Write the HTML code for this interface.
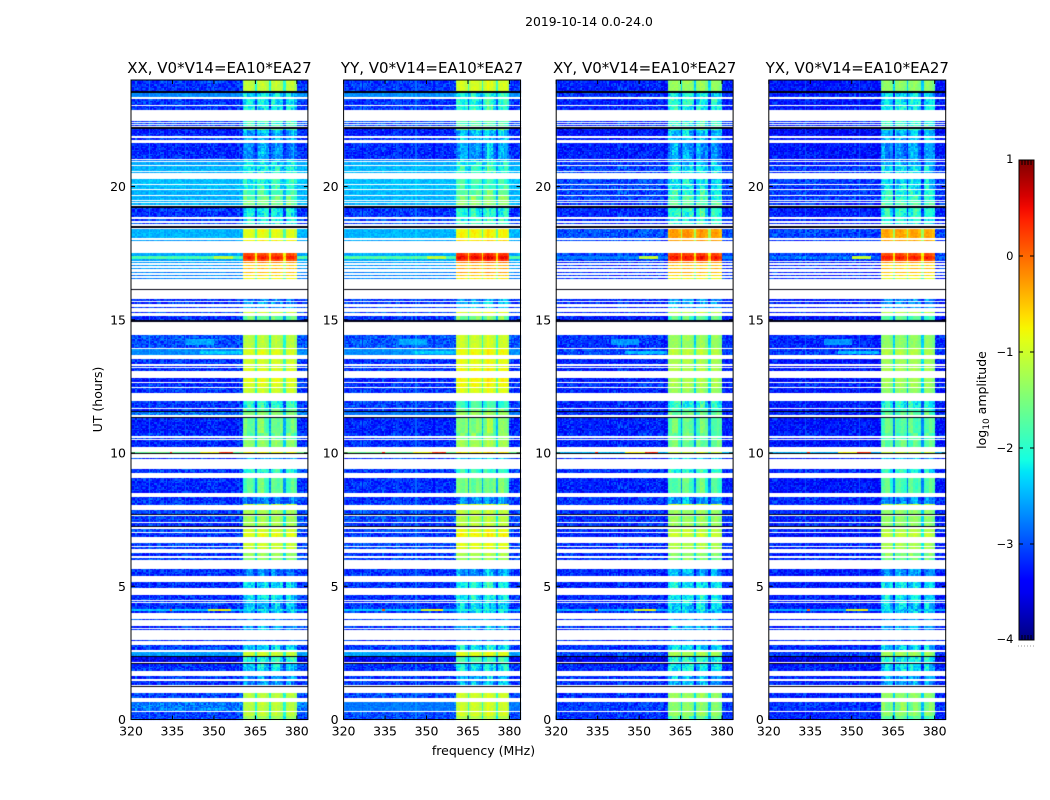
<!DOCTYPE html>
<html lang="en">
<head>
<meta charset="utf-8">
<title>2019-10-14 0.0-24.0</title>
<style>
html,body{margin:0;padding:0;background:#fff;width:1050px;height:800px;overflow:hidden}
#stage{position:relative;width:1050px;height:800px}
canvas{position:absolute;left:0;top:0}
svg{position:absolute;left:0;top:0}
text{font-family:"DejaVu Sans","Liberation Sans",sans-serif;fill:#000}
</style>
</head>
<body>
<div id="stage">
<canvas id="heat-0" width="1050" height="800"></canvas>
<canvas id="heat-1" width="1050" height="800"></canvas>
<canvas id="heat-2" width="1050" height="800"></canvas>
<canvas id="heat-3" width="1050" height="800"></canvas>
<svg id="axes" width="1050" height="800" viewBox="0 0 1050 800">
<defs><linearGradient id="jet-gradient" x1="0" y1="1" x2="0" y2="0"></linearGradient></defs>
<text x="589" y="26" font-size="12.4" text-anchor="middle">2019-10-14 0.0-24.0</text>
<text x="483.5" y="755" font-size="12.5" text-anchor="middle">frequency (MHz)</text>
<text transform="translate(102,399.5) rotate(-90)" font-size="12.5" text-anchor="middle">UT (hours)</text>
<text transform="translate(986,400) rotate(-90)" font-size="12.5" text-anchor="middle">log<tspan font-size="9" dy="3">10</tspan><tspan dy="-3"> amplitude</tspan></text>
</svg>
</div>
<script>
// Band timing (UT hours); anything outside a band is a white gap.
var bandTop=[24,23.51,23.28,23.02,22.46,22.39,22.32,22.16,22.12,21.84,21.63,20.99,20.92,20.77,20.54,20.28,20.06,19.89,19.64,19.47,19.38,19.20,18.78,18.64,18.41,18.01,17.49,17.39,17.30,17.17,17.07,16.94,16.80,16.68,16.56,15.79,15.65,15.49,15.28,15.14,14.43,13.89,13.53,13.28,13.19,12.83,12.62,12.45,11.95,11.64,11.55,11.30,10.74,10.58,10.50,10.05,9.81,9.40,9.07,8.35,8.08,7.86,7.64,7.37,7.16,7.00,6.62,6.48,6.24,6.07,5.65,5.16,4.67,4.45,4.36,4.16,4.08,3.76,3.51,3.40,2.98,2.80,2.54,2.33,2.07,1.63,1.46,0.98,0.66,0.27,0.13];
var bandBottom=[23.58,23.37,23.06,22.89,22.42,22.35,22.27,22.12,21.88,21.76,21.03,20.96,20.81,20.58,20.52,20.09,19.92,19.68,19.51,19.41,19.31,18.84,18.71,18.59,18.06,17.95,17.39,17.30,17.20,17.13,17.03,16.90,16.77,16.64,16.52,15.70,15.58,15.43,15.24,14.99,13.95,13.68,13.34,13.23,13.06,12.68,12.49,12.26,11.68,11.59,11.41,10.76,10.64,10.54,10.21,9.99,9.77,9.26,8.51,8.08,8.05,7.71,7.42,7.27,7.04,6.86,6.52,6.39,6.15,5.99,5.40,4.92,4.48,4.40,4.16,4.08,4.01,3.73,3.44,3.36,2.95,2.61,2.39,2.17,1.83,1.53,1.31,0.81,0.32,0.13,0];
// Off-band log10 amplitude per band, parallel-hand products (XX, YY)
var parallelOffBand=[-3.15,-2.7,-3.15,-3.15,-3.05,-3.05,-3.05,-3.25,-3.25,-3.15,-3.2,-2.75,-2.55,-2.5,-2.5,-2.45,-2.45,-2.5,-2.5,-2.5,-2.5,-3.15,-3.05,-3.05,-2.5,-2.6,-2.55,-1.8,-2.55,-2.6,-2.65,-2.65,-2.75,-2.75,-2.75,-3.15,-3.15,-3.15,-3.05,-3.15,-3,-2.7,-3.15,-3.15,-3.15,-3.25,-3.15,-3.15,-3.1,-3.15,-2.8,-3.25,-3.15,-3.15,-3.2,-1.6,-3.15,-3.1,-3.2,-3.15,-3.05,-3.05,-3.05,-3.15,-3.05,-3.15,-3.05,-3.05,-3.15,-3.05,-3.15,-3.15,-3.15,-3.15,-3.15,-2.4,-3.15,-3.05,-3.15,-3.15,-3.15,-3.1,-2.6,-3.5,-3.15,-3.15,-3.15,-3.05,-2.8,-3.05,-3.05];
// In-band (360-380 MHz) log10 amplitude per band, parallel hands
var parallelInBand=[-1.15,-2.3,-2.25,-2.2,-1.9,-2.1,-1.9,-1.7,-2.6,-2.6,-2.75,-2.5,-2.3,-2.2,-2.2,-2.1,-2.1,-1.9,-1.7,-1.6,-1.6,-2.2,-2.2,-2.1,-0.95,-0.8,0.1,0.3,0.1,-0.3,-0.6,-0.5,-0.5,-0.7,-0.9,-2.8,-2.7,-2.6,-1.1,-1.7,-1.2,-1,-1.05,-1.1,-1,-0.95,-1,-1.1,-2.1,-1.8,-1.5,-1.65,-1.7,-1.7,-1.45,-0.9,-2.6,-2.1,-1.75,-2.85,-1.15,-1.3,-1.35,-1.3,-1.05,-0.95,-1.1,-1.1,-1.4,-1.5,-2.8,-2.35,-2.35,-2.4,-2.5,-2.3,-2.6,-2.8,-2.7,-2.7,-3,-2.4,-1.1,-2.1,-2.4,-2.7,-2.7,-1.2,-1.2,-1.15,-1.4];
// Off-band log10 amplitude per band, cross-hand products (XY, YX)
var crossOffBand=[-3.25,-3.15,-3.25,-3.25,-3.15,-3.15,-3.15,-3.25,-3.35,-3.25,-3.25,-3.15,-3.15,-3.05,-3.05,-3.05,-3.05,-3.05,-3.05,-3.15,-3.15,-3.2,-3.15,-3.15,-3,-3.05,-3.05,-2.75,-3.05,-3.15,-3.15,-3.15,-3.15,-3.15,-3.15,-3.2,-3.2,-3.2,-3.15,-3.25,-3.15,-3.05,-3.25,-3.25,-3.25,-3.25,-3.15,-3.25,-3.2,-3.2,-3.15,-3.25,-3.2,-3.2,-3.25,-2.4,-3.2,-3.15,-3.25,-3.15,-3.15,-3.15,-3.15,-3.15,-3.15,-3.25,-3.15,-3.15,-3.15,-3.15,-3.2,-3.2,-3.2,-3.2,-3.2,-2.5,-3.2,-3.15,-3.15,-3.15,-3.15,-3.15,-3.05,-3.5,-3.2,-3.15,-3.15,-3.15,-3.1,-3.15,-3.15];
// In-band log10 amplitude per band, cross hands
var crossInBand=[-1.5,-2.4,-2.3,-2.3,-2.1,-2.2,-2.1,-1.9,-2.6,-2.6,-2.8,-2.8,-2.6,-2.4,-2.4,-2.4,-2.4,-2.2,-2.1,-2,-1.9,-2.15,-2.3,-2.2,-0.45,-0.45,0.05,0.25,0.1,-0.4,-0.7,-0.6,-0.6,-0.8,-1,-2.8,-2.75,-2.7,-1.3,-1.9,-1.5,-1.3,-1.4,-1.4,-1.35,-1.4,-1.4,-1.5,-2.2,-2,-1.8,-1.85,-1.9,-1.9,-1.8,-1.2,-2.6,-2.2,-1.9,-2.8,-1.2,-1.5,-1.5,-1.5,-1.3,-1.2,-1.35,-1.35,-1.6,-1.7,-2.75,-2.4,-2.4,-2.45,-2.5,-2.5,-2.6,-2.8,-2.7,-2.7,-3,-2.5,-1.4,-2.2,-2.4,-2.7,-2.7,-1.5,-1.6,-1.5,-1.9];
// Per-product level shift: XX, YY, XY, YX
var productInBandShift=[0,0.12,0.1,0.05];
var productOffBandShift=[0,0.02,0,-0.05];
// Flagged, near-black integrations
var blackTop=[23.58,22.23,19.27,18.53,16.17,14.99,11.59,11.34,9.99,7.71,7.27,2.39,2.11,1.26];
var blackBottom=[23.53,22.16,19.20,18.44,16.12,14.92,11.55,11.30,9.96,7.67,7.21,2.33,2.07,1.21];
// Narrow-band interference features
var spotTop=[10.05,10.05,10.05,4.16,4.16,4.16,14.3,13.85,17.39];
var spotBottom=[9.99,9.99,9.99,4.08,4.08,4.08,14.0,13.7,17.30];
var spotFreqStart=[334,345,352,334,348,352,340,345,350];
var spotFreqEnd=[335,352,357,335,352,356,350,360,357];
var spotLevel=[0.3,-0.8,0.25,0,-1,-0.8,-2.55,-2.35,-1.1];
// Correlator sub-band edge gaps (MHz)
var gapStart=[364.8,369.8,375];
var gapEnd=[365.5,370.5,375.6];
// Bandpass ripple for 360-380 MHz at 1 MHz steps (dex), estimated
var bandpassRipple=[-0.1,0.05,0.1,0.08,-0.05,-0.02,0.08,0.12,0.06,-0.06,-0.04,0.06,0.14,0.08,-0.05,-0.08,0.04,0.1,0.06,-0.1];
// Patchy in-band structure at 2 MHz steps (dex), estimated
var patchTable=[0.15,-0.12,0.06,0.2,-0.18,0.03,-0.09,0.18,-0.15,0.12,-0.06,0.24,-0.2,0.09,0,-0.12,0.18];
// Measurement scatter table (dex), estimated from the visible speckle
var speckle=[0.12,-0.25,0.31,-0.08,-0.33,0.05,0.22,-0.15,0.4,-0.02,-0.28,0.17,0.08,-0.37,0.26,-0.11,0.03,0.35,-0.21,-0.05,0.14,-0.3,0.48,-0.18,0.01,0.2,-0.12,-0.4,0.1,0.29,-0.24,0.06,-0.07,0.38,-0.16,0.18,-0.34,0.02,0.24,-0.27,0.09,-0.04,0.33,-0.2,0.15,-0.1,-0.36,0.27,0,0.44,-0.22,0.07,-0.14,0.19,-0.31,0.11,0.36,-0.06,-0.26,0.04,0.23,-0.17,-0.42,0.13,0.3,-0.09,0.16,-0.29,-0.01,0.21,-0.13,0.34,-0.23,0.06,-0.38,0.25,0.1,-0.03,-0.19,0.42,-0.07,0.17,-0.32,0.03,0.28,-0.15,-0.11,0.08,0.37,-0.25,0.12,-0.02,-0.35,0.2,-0.06,0.26,-0.18,0.14,-0.28,0.05,0.32];
// Axis ticks and labels
var productTitles=["XX, V0*V14=EA10*EA27","YY, V0*V14=EA10*EA27","XY, V0*V14=EA10*EA27","YX, V0*V14=EA10*EA27"];
var freqTicks=[320,335,350,365,380];
var hourTicks=[0,5,10,15,20];
var colorbarTicks=[-4,-3,-2,-1,0,1];
var jetRed=[[0,0],[0.35,0],[0.66,1],[0.89,1],[1,0.5]];
var jetGreen=[[0,0],[0.125,0],[0.375,1],[0.64,1],[0.91,0],[1,0]];
var jetBlue=[[0,0.5],[0.11,1],[0.34,1],[0.65,0],[1,0]];

var plotTop=80.5, plotBottom=719.5, plotWidth=176.9;
var panelLeft=[131,343.6,556.2,768.8];
var NS='http://www.w3.org/2000/svg';
var svg=document.getElementById('axes');

function yAxis(h){return plotBottom-(h/24)*(plotBottom-plotTop)*1.0008;}
function xAxis(f,left){return left+(f-320)*plotWidth/64;}
function interp(t,pts){
  for(var i=1;i<pts.length;i++){
    if(t<=pts[i][0]){var a=pts[i-1],b=pts[i];return a[1]+(b[1]-a[1])*(t-a[0])/(b[0]-a[0]);}
  }
  return pts[pts.length-1][1];
}
function jet(v){
  var t=Math.max(0,Math.min(1,(v+4)/5));
  return 'rgb('+Math.round(255*interp(t,jetRed))+','+Math.round(255*interp(t,jetGreen))+','+Math.round(255*interp(t,jetBlue))+')';
}
function inGap(f){
  for(var i=0;i<gapStart.length;i++){if(f>=gapStart[i]&&f<gapEnd[i])return true;}
  return false;
}
function drawHeat(p){
  var ctx=document.getElementById('heat-'+p).getContext('2d');
  var left=panelLeft[p];
  var off=p<2?parallelOffBand:crossOffBand;
  var inb=p<2?parallelInBand:crossInBand;
  var rowH=0.05, chanW=0.5, nChan=128, rowSeed=0;
  for(var b=0;b<bandTop.length;b++){
    var n=Math.max(1,Math.round((bandTop[b]-bandBottom[b])/rowH));
    var dh=(bandTop[b]-bandBottom[b])/n;
    for(var r=0;r<n;r++){
      rowSeed++;
      var h0=bandTop[b]-r*dh,h1=h0-dh;
      var y0=Math.round(yAxis(h0)),y1=Math.max(y0+1,Math.round(yAxis(h1)));
      for(var c=0;c<nChan;c++){
        var f=320+c*chanW;
        var bg=off[b]+productOffBandShift[p];
        var lvl=bg,amp=bg>-2.8?0.4:0.9;
        if(f>=360.4&&f<380){
          var rf=inb[b]+productInBandShift[p];
          var mhz=Math.floor(f-360);
          var shaped=rf+bandpassRipple[Math.max(0,mhz)];
          if(rf<-1.5){shaped+=patchTable[(Math.floor((f-360)/2)+b*3+p*5)%patchTable.length];}
          lvl=Math.max(bg,inGap(f)?rf-0.9:shaped);
          amp=rf>-2?0.3:0.75;
        }
        for(var s=0;s<spotTop.length;s++){
          if(h0<=spotTop[s]+1e-6&&h1>=spotBottom[s]-1e-6&&f>=spotFreqStart[s]&&f<spotFreqEnd[s]&&(f<360.4||f>=380)){
            lvl=Math.max(lvl,spotLevel[s]-(p>1&&spotLevel[s]<-1.5?0.1:0));amp=0.4;
          }
        }
        var idx=(c*37+rowSeed*101+((c*rowSeed)%13)*7+c*c*3+p*19)%speckle.length;
        var v=lvl+amp*speckle[idx];
        var x0=Math.round(xAxis(f,left)),x1=Math.round(xAxis(f+chanW,left));
        ctx.fillStyle=jet(v);
        ctx.fillRect(x0,y0,x1-x0,y1-y0);
      }
    }
  }
  for(var k=0;k<blackTop.length;k++){
    var ky=Math.round(yAxis(blackTop[k]));
    var kh=Math.max(1,Math.round(yAxis(blackBottom[k]))-ky);
    ctx.fillStyle='#000010';
    ctx.fillRect(Math.round(left),ky,Math.round(plotWidth),kh);
  }
}
function line(x1,y1,x2,y2,name,color){
  var l=document.createElementNS(NS,'line');
  l.setAttribute('x1',x1);l.setAttribute('y1',y1);l.setAttribute('x2',x2);l.setAttribute('y2',y2);
  l.setAttribute('stroke',color||'#000');l.setAttribute('stroke-width','1');
  
  
  svg.appendChild(l);
  return l;
}
function label(x,y,str,anchor,size,name){
  var t=document.createElementNS(NS,'text');
  t.setAttribute('x',x);t.setAttribute('y',y);t.setAttribute('text-anchor',anchor);t.setAttribute('font-size',size);
  t.textContent=str;
  
  
  svg.appendChild(t);
  return t;
}
function drawAxes(p){
  var left=panelLeft[p],right=left+plotWidth;
  var frame=document.createElementNS(NS,'rect');
  frame.setAttribute('x',left);frame.setAttribute('y',plotTop-0.5);
  frame.setAttribute('width',plotWidth);frame.setAttribute('height',plotBottom-plotTop+0.5);
  frame.setAttribute('fill','none');frame.setAttribute('stroke','#000');frame.setAttribute('stroke-width','1');
  
  
  svg.appendChild(frame);
  label(left+plotWidth/2,plotTop-7.5,productTitles[p],'middle','15','panel-title');
  freqTicks.forEach(function(f){
    var x=xAxis(f,left);
    line(x,plotBottom,x,plotBottom-4,'x-tick');
    line(x,plotTop-0.5,x,plotTop+3.5,'x-tick-top');
    label(x,plotBottom+16,String(f),'middle','12.5','x-tick-label');
  });
  hourTicks.forEach(function(h){
    var y=yAxis(h);
    line(left,y,left+4,y,'y-tick');
    line(right,y,right-4,y,'y-tick-right');
    label(left-5,y+4.5,String(h),'end','12.5','y-tick-label');
  });
}
function drawColorbar(){
  var grad=document.getElementById('jet-gradient');
  for(var i=0;i<=40;i++){
    var st=document.createElementNS(NS,'stop');
    st.setAttribute('offset',(i/40));
    st.setAttribute('stop-color',jet(-4+5*i/40));
    grad.appendChild(st);
  }
  var cbLeft=1019,cbRight=1034,cbTop=160,cbBottom=640;
  function cbY(v){return cbBottom-(v+4)/5*(cbBottom-cbTop);}
  var bar=document.createElementNS(NS,'rect');
  bar.setAttribute('x',cbLeft);bar.setAttribute('y',cbTop);
  bar.setAttribute('width',cbRight-cbLeft);bar.setAttribute('height',cbBottom-cbTop);
  bar.setAttribute('fill','url(#jet-gradient)');bar.setAttribute('stroke','#000');bar.setAttribute('stroke-width','1');
  
  
  svg.appendChild(bar);
  colorbarTicks.forEach(function(v){
    var y=cbY(v);
    if(v>-4&&v<1){
      line(cbLeft,y,cbLeft+4,y,'colorbar-tick');
      line(cbRight,y,cbRight-4,y,'colorbar-tick-right');
    }
    var str=v<0?'\u2212'+Math.abs(v):String(v);
    label(1013.5,y+(v===1?3:v===-4?3:4),str,'end','11.5','colorbar-tick-label');
  });
  for(var x=cbLeft+3;x<cbRight-1;x+=3){
    line(x,cbTop,x,cbTop+5,'colorbar-minor-tick-top');
    line(x,cbBottom,x,cbBottom-5,'colorbar-minor-tick-bottom');
  }
  for(var d=1018;d<=1034;d+=3){
    var dot=document.createElementNS(NS,'rect');
    dot.setAttribute('x',d);dot.setAttribute('y',645.5);dot.setAttribute('width',1);dot.setAttribute('height',1);
    dot.setAttribute('fill','#999');
    
    
    svg.appendChild(dot);
  }
}
for(var p=0;p<4;p++){drawHeat(p);drawAxes(p);}
drawColorbar();
</script>
</body>
</html>
